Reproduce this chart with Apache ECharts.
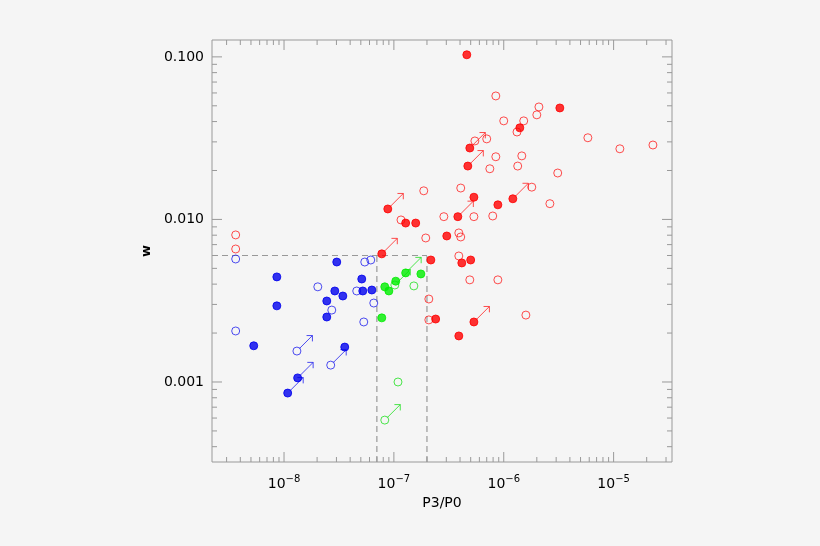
<!DOCTYPE html>
<html><head><meta charset="utf-8">
<script src="https://cdn.jsdelivr.net/npm/echarts@6/dist/echarts.min.js"></script>
<style>html,body{margin:0;background:#f5f5f5}#c{width:820px;height:546px}</style>
</head><body><div id="c"></div>
<script>
var blueFilled=[[3.02e-8,5.47e-3],[8.6e-9,4.43e-3],[8.6e-9,2.94e-3],[5.1e-8,4.3e-3],[2.9e-8,3.63e-3],[3.43e-8,3.38e-3],[5.21e-8,3.63e-3],[6.3e-8,3.68e-3],[2.45e-8,3.15e-3],[2.45e-8,2.51e-3],[5.3e-9,1.67e-3],[3.57e-8,1.64e-3],[1.33e-8,1.06e-3],[1.08e-8,8.55e-4]];
var blueOpen=[[3.63e-9,5.71e-3],[3.63e-9,2.06e-3],[2.03e-8,3.85e-3],[2.72e-8,2.77e-3],[4.59e-8,3.63e-3],[5.43e-8,5.47e-3],[6.16e-8,5.63e-3],[6.56e-8,3.06e-3],[5.32e-8,2.34e-3],[1.31e-8,1.55e-3],[2.66e-8,1.27e-3]];
var greenFilled=[[7.76e-8,2.48e-3],[8.26e-8,3.85e-3],[9.0e-8,3.63e-3],[1.04e-7,4.17e-3],[1.28e-7,4.69e-3],[1.76e-7,4.62e-3]];
var greenOpen=[[1.02e-7,3.95e-3],[1.52e-7,3.9e-3],[1.09e-7,1.0e-3],[8.26e-8,5.83e-4]];
var redFilled=[[4.61e-7,0.103],[3.24e-6,0.0485],[1.4e-6,0.0366],[4.91e-7,0.0275],[4.71e-7,0.0213],[5.35e-7,0.0137],[8.84e-7,0.0123],[1.21e-6,0.0134],[8.8e-8,0.0116],[3.82e-7,0.0104],[1.28e-7,9.5e-3],[1.58e-7,9.5e-3],[3.03e-7,7.91e-3],[7.76e-8,6.14e-3],[2.17e-7,5.63e-3],[4.15e-7,5.4e-3],[5.0e-7,5.63e-3],[2.4e-7,2.44e-3],[5.35e-7,2.34e-3],[3.9e-7,1.92e-3]];
var redOpen=[[8.47e-7,0.0575],[2.09e-6,0.0492],[2.0e-6,0.044],[1.0e-6,0.0404],[1.52e-6,0.0404],[1.32e-6,0.0345],[7.0e-7,0.0313],[5.46e-7,0.0304],[5.83e-6,0.0318],[1.14e-5,0.0272],[2.28e-5,0.0287],[8.47e-7,0.0243],[1.46e-6,0.0246],[1.34e-6,0.0213],[7.47e-7,0.0205],[3.1e-6,0.0193],[1.87e-7,0.015],[4.06e-7,0.0156],[1.8e-6,0.0158],[2.63e-6,0.0125],[2.85e-7,0.0104],[5.35e-7,0.0104],[7.94e-7,0.0105],[1.16e-7,9.93e-3],[1.95e-7,7.69e-3],[3.9e-7,8.26e-3],[4.06e-7,7.8e-3],[3.9e-7,5.96e-3],[4.91e-7,4.25e-3],[8.84e-7,4.25e-3],[2.08e-7,3.24e-3],[2.08e-7,2.41e-3],[1.59e-6,2.58e-3],[3.63e-9,8.03e-3],[3.63e-9,6.58e-3]];
var blueArrows=[[1.33e-8,1.06e-3],[1.08e-8,8.55e-4],[1.31e-8,1.55e-3],[2.66e-8,1.27e-3]];
var greenArrows=[[1.28e-7,4.69e-3],[1.02e-7,3.95e-3],[8.26e-8,5.83e-4]];
var redArrows=[[7.76e-8,6.14e-3],[8.8e-8,0.0116],[3.82e-7,0.0104],[1.21e-6,0.0134],[4.91e-7,0.0275],[4.71e-7,0.0213],[5.35e-7,2.34e-3]];
var dashLines=[[[2.21e-9,6e-3],[2e-7,6e-3]],[[7e-8,3.22e-4],[7e-8,6e-3]],[[2e-7,3.22e-4],[2e-7,6e-3]]];
var xMin=2.21e-9,xMax=3.4e-5,yMin=3.22e-4,yMax=0.127;
var xLabels={'-8':'10^{-8}','-7':'10^{-7}','-6':'10^{-6}','-5':'10^{-5}'};
var yLabels={'-1':'0.100','-2':'0.010','-3':'0.001'};

function ticks(lo,hi){var out=[];for(var e=-10;e<=0;e++){for(var m=1;m<10;m++){var v=m*Math.pow(10,e);if(v>=lo&&v<=hi)out.push([v,m===1?1:0]);}}return out;}
var xt=ticks(xMin,xMax),yt=ticks(yMin,yMax);
var tickColor='#999';
function tickSeries(){
  return {type:'custom',silent:true,z:1,data:[0],renderItem:function(p,api){
    var ch=[];
    var x0=api.coord([xMin,yMin]),x1=api.coord([xMax,yMax]);
    xt.forEach(function(t){var px=api.coord([t[0],yMin])[0];var L=t[1]?10:5;
      ch.push({type:'line',shape:{x1:px,y1:x0[1],x2:px,y2:x0[1]-L},style:{stroke:tickColor,lineWidth:1}});
      ch.push({type:'line',shape:{x1:px,y1:x1[1],x2:px,y2:x1[1]+L},style:{stroke:tickColor,lineWidth:1}});});
    yt.forEach(function(t){var py=api.coord([xMin,t[0]])[1];var L=t[1]?10:5;
      ch.push({type:'line',shape:{x1:x0[0],y1:py,x2:x0[0]+L,y2:py},style:{stroke:tickColor,lineWidth:1}});
      ch.push({type:'line',shape:{x1:x1[0],y1:py,x2:x1[0]-L,y2:py},style:{stroke:tickColor,lineWidth:1}});});
    ch.push({type:'rect',shape:{x:x0[0],y:x1[1],width:x1[0]-x0[0],height:x0[1]-x1[1]},style:{fill:'none',stroke:tickColor,lineWidth:1}});
    return {type:'group',children:ch};
  }};
}
var arrowPath='path://M0,20L20,0M11,0L20,0L20,9';
function pts(d,c,filled){return {type:'scatter',data:d,symbol:'circle',symbolSize:8,z:5,
  itemStyle:{color:filled?c:'transparent',borderColor:c,borderWidth:1}};}
function arrows(d,c){return {type:'scatter',data:d,symbol:arrowPath,symbolSize:13,symbolOffset:[9,-9],z:4,
  itemStyle:{color:'transparent',borderColor:c,borderWidth:1}};}
var series=[tickSeries()];
dashLines.forEach(function(l){series.push({type:'line',data:l,symbol:'none',z:2,lineStyle:{color:'#999',type:[6,4],width:1.2}});});
series.push(pts(redOpen,'#ff2020',false),pts(redFilled,'#ff0000',true),pts(blueOpen,'#2020ee',false),pts(blueFilled,'#0000ee',true),pts(greenOpen,'#20e020',false),pts(greenFilled,'#00ee00',true),arrows(redArrows,'#ff2020'),arrows(blueArrows,'#2020ee'),arrows(greenArrows,'#20e020'));
var chart=echarts.init(document.getElementById('c'));
function key(v){var l=Math.log10(v);var r=Math.round(l);return Math.abs(l-r)<1e-6?String(r):null;}
chart.setOption({backgroundColor:'#f5f5f5',animation:false,
  grid:{left:212,top:40,width:460,height:422},
  xAxis:{type:'log',min:xMin,max:xMax,logBase:10,name:'P3/P0',nameLocation:'middle',nameGap:32,nameTextStyle:{fontFamily:'DejaVu Sans',fontSize:14,color:'#000'},
    axisLine:{show:false},axisTick:{show:false},splitLine:{show:false},
    axisLabel:{fontFamily:'DejaVu Sans',fontSize:14,color:'#000',margin:12,showMinLabel:true,showMaxLabel:true,
      formatter:function(v){var k=key(v);if(k===null||!xLabels[k])return '';return '{b|10}{s|'+k.replace('-','\u2212')+'}';},
      rich:{b:{fontFamily:'DejaVu Sans',fontSize:14,color:'#000'},s:{fontFamily:'DejaVu Sans',fontSize:10,color:'#000',verticalAlign:'top',padding:[0,0,10,0]}}}},
  yAxis:{type:'log',min:yMin,max:yMax,logBase:10,name:'w',nameLocation:'middle',nameGap:58,nameTextStyle:{fontFamily:'DejaVu Sans',fontSize:13,fontWeight:'bold',color:'#000'},
    axisLine:{show:false},axisTick:{show:false},splitLine:{show:false},
    axisLabel:{fontFamily:'DejaVu Sans',fontSize:14,color:'#000',margin:8,
      formatter:function(v){var k=key(v);return (k!==null&&yLabels[k])?yLabels[k]:'';}}},
  series:series});
</script></body></html>
